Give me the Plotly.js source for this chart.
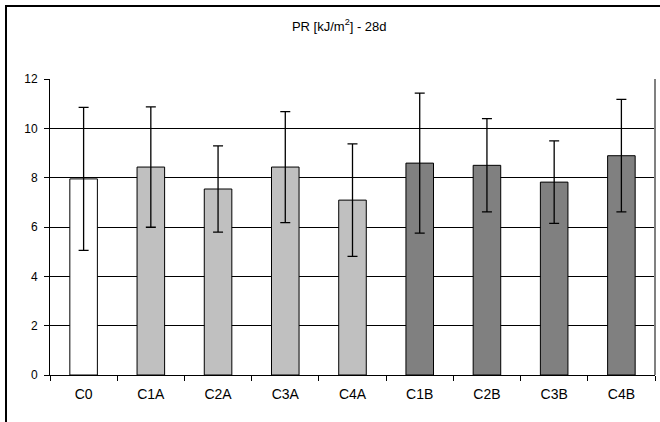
<!DOCTYPE html>
<html>
<head>
<meta charset="utf-8">
<script src="https://cdn.plot.ly/plotly-3.0.1.min.js"></script>
<style>
  html, body { margin: 0; padding: 0; background: #fff; }
  #wrap { position: relative; width: 660px; height: 422px; overflow: hidden; }
  #chart { width: 660px; height: 422px; }
  #frame { position: absolute; left: 5px; top: 5px; width: 800px; height: 600px;
           border-left: 2px solid #000; border-top: 2px solid #000; pointer-events: none; }
</style>
</head>
<body>
<div id="wrap">
  <div id="chart"></div>
  <div id="frame"></div>
</div>
<script>
// Data
var categories = ["C0", "C1A", "C2A", "C3A", "C4A", "C1B", "C2B", "C3B", "C4B"];
var groups     = ["0",  "A",   "A",   "A",   "A",   "B",   "B",   "B",   "B"];
var means      = [7.95, 8.43, 7.54, 8.43, 7.09, 8.59, 8.50, 7.82, 8.89];
var errors     = [2.90, 2.44, 1.75, 2.25, 2.28, 2.84, 1.89, 1.67, 2.28];
var yTicks     = [0, 2, 4, 6, 8, 10, 12];

var groupColor = { "0": "#FFFFFF", "A": "#C0C0C0", "B": "#808080" };
var barColors = groups.map(function (g) { return groupColor[g]; });

var trace = {
  type: "bar",
  x: categories,
  y: means,
  marker: { color: barColors, line: { color: "#000", width: 1 } },
  error_y: { type: "data", array: errors, visible: true, color: "#000", thickness: 1.3, width: 5 },
  hoverinfo: "none"
};

var layout = {
  width: 660, height: 422,
  margin: { l: 50, r: 5, t: 79, b: 47, pad: 0 },
  paper_bgcolor: "#fff", plot_bgcolor: "#fff",
  showlegend: false,
  bargap: 0.59,
  font: { family: "Liberation Sans, Arial, sans-serif", size: 12, color: "#000" },
  title: {
    text: "PR [kJ/m<sup>2</sup>] - 28d",
    font: { family: "Liberation Sans, Arial, sans-serif", size: 13, color: "#000" },
    x: 0.514, xref: "container", xanchor: "center",
    y: 0.938, yref: "container", yanchor: "middle"
  },
  xaxis: {
    type: "category",
    showline: true, linecolor: "#000", linewidth: 1,
    ticks: "outside", tickson: "boundaries", ticklen: 5, tickcolor: "#000", tickwidth: 1,
    ticklabelstandoff: 6,
    showgrid: false, zeroline: false,
    tickfont: { size: 14, color: "#000" },
    fixedrange: true
  },
  yaxis: {
    range: [0, 12],
    tickvals: yTicks,
    showline: true, linecolor: "#000", linewidth: 1,
    ticks: "outside", ticklen: 5, tickcolor: "#000", tickwidth: 1,
    ticklabelstandoff: 4,
    showgrid: true, gridcolor: "#000", gridwidth: 1,
    zeroline: false,
    tickfont: { size: 12, color: "#000" },
    fixedrange: true
  },
  shapes: [
    { type: "line", xref: "paper", yref: "paper", x0: 1, x1: 1, y0: 0, y1: 1,
      line: { color: "#808080", width: 2 } }
  ]
};

Plotly.newPlot("chart", [trace], layout, { staticPlot: true, displayModeBar: false });
</script>
</body>
</html>
